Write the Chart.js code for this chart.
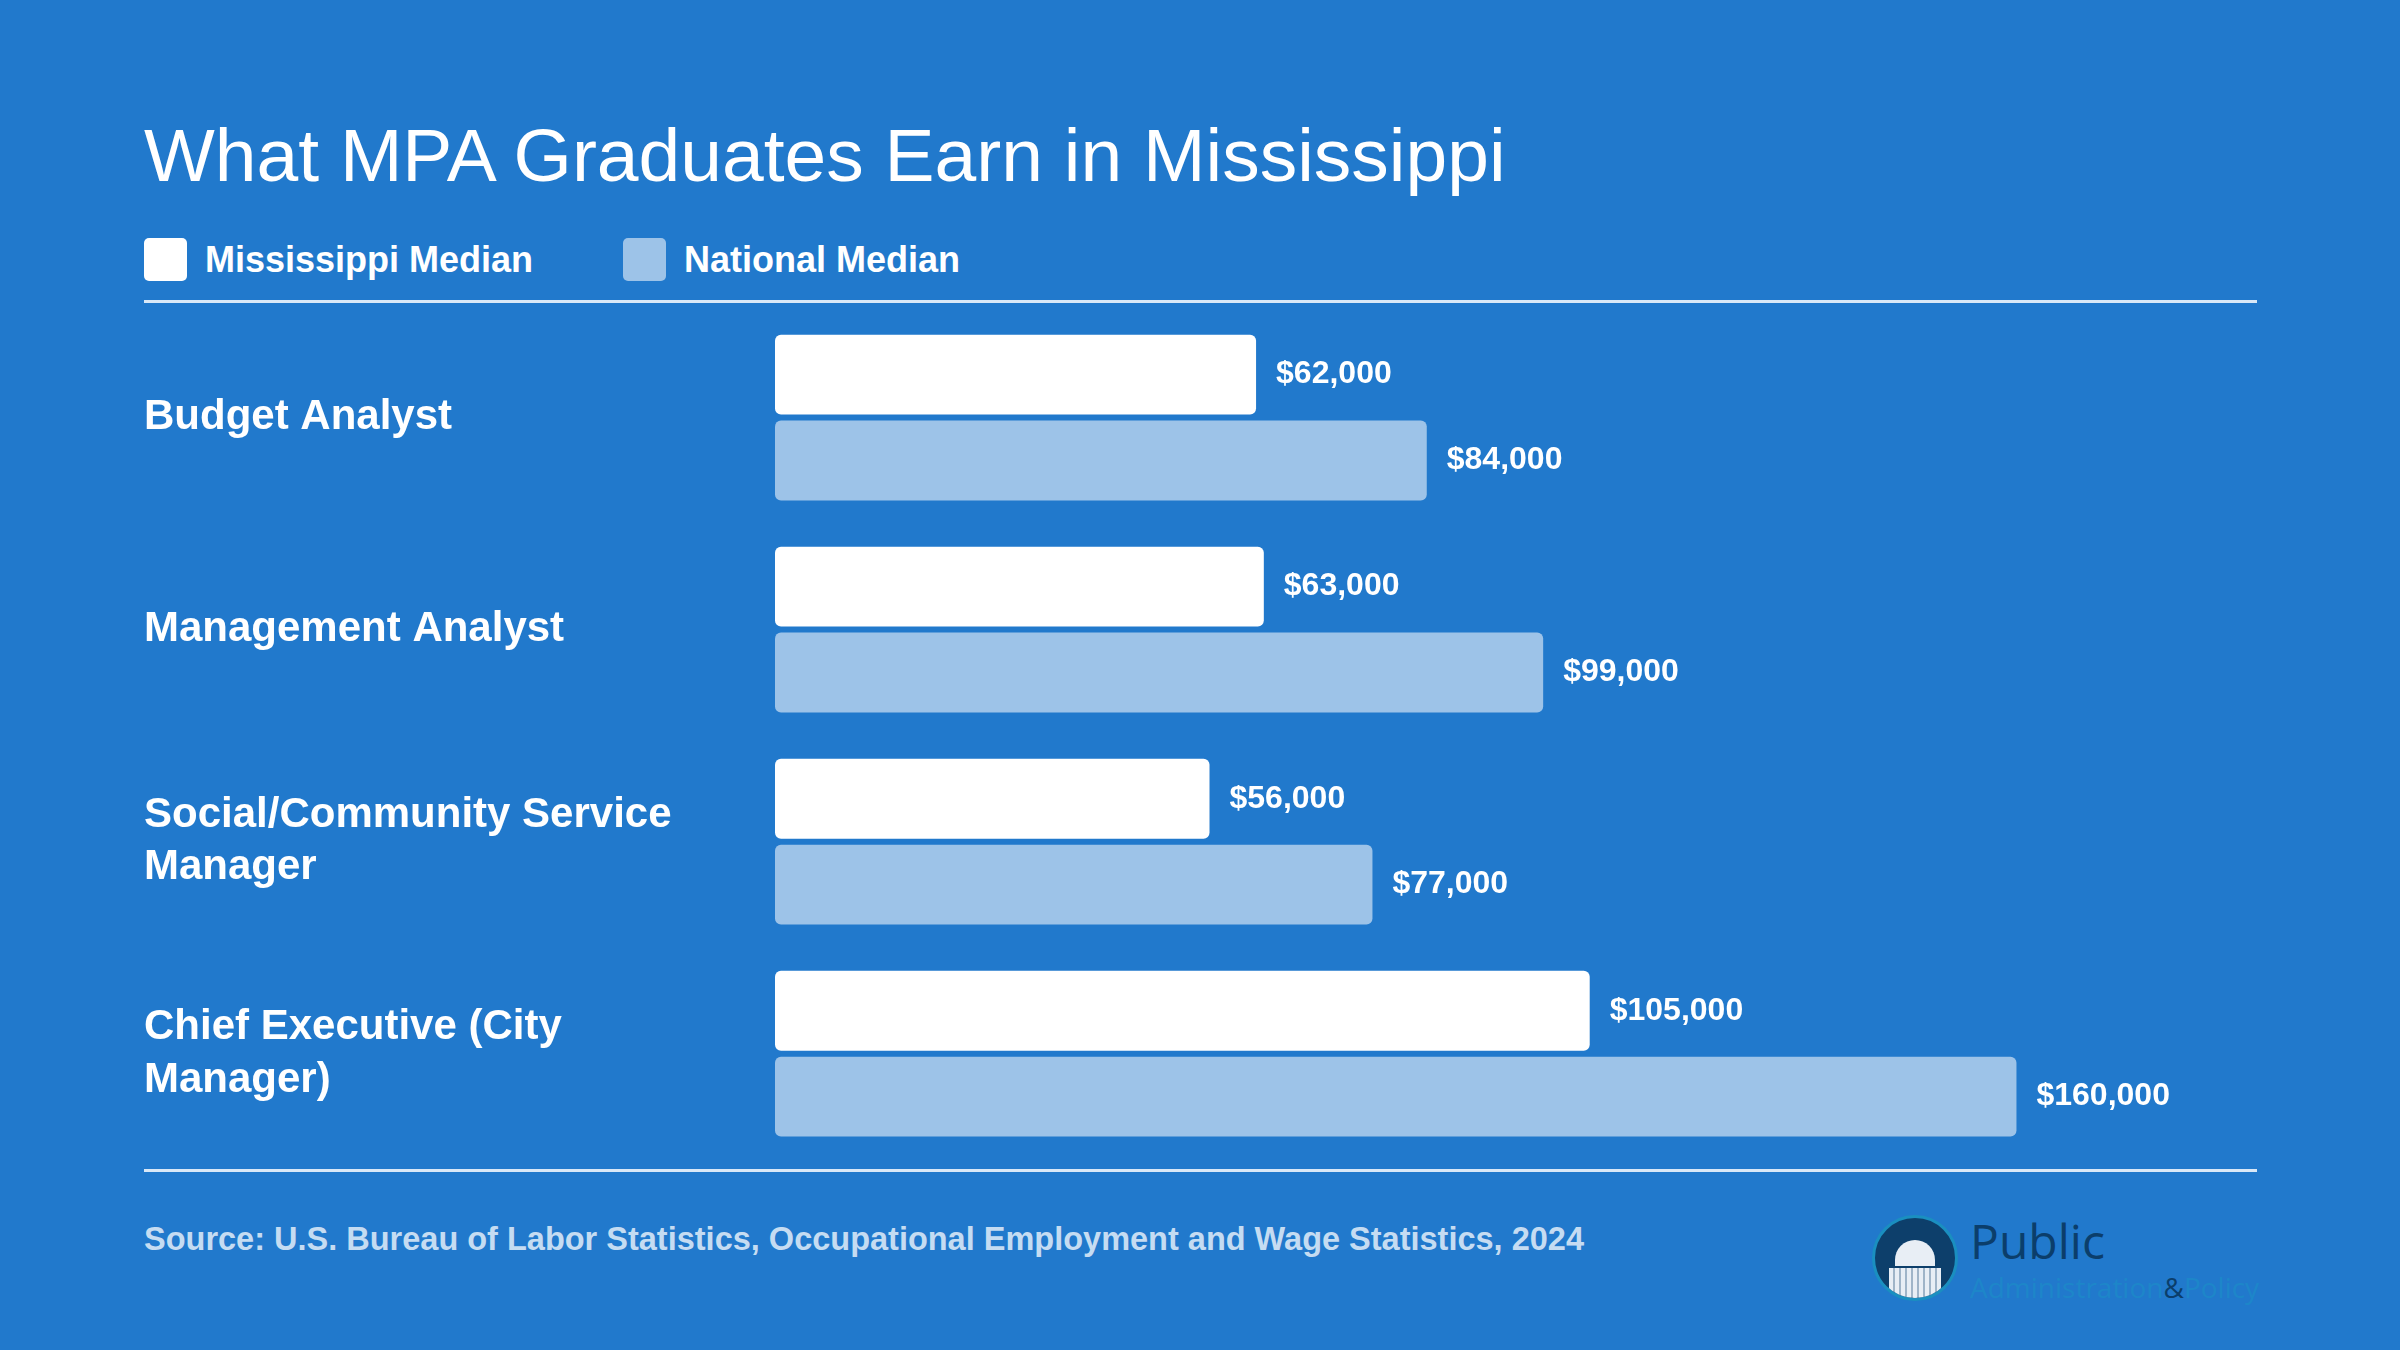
<!DOCTYPE html>
<html lang="en">
<head>
<meta charset="UTF-8">
<title>What MPA Graduates Earn in Mississippi</title>
<script src="https://cdn.jsdelivr.net/npm/chart.js"></script>
<style>
  body { margin: 0; width: 2400px; height: 1350px; background: #2179cc; font-family: "Liberation Sans", Arial, sans-serif; position: relative; overflow: hidden; }
  h1 { position: absolute; left: 144px; top: 112px; margin: 0; font-size: 75px; font-weight: normal; color: #fff; }
  .legend { position: absolute; left: 144px; top: 238px; display: flex; font-size: 36px; font-weight: bold; color: #fff; }
  .legend span { display: flex; align-items: center; margin-right: 90px; }
  .legend i { display: inline-block; width: 43px; height: 43px; border-radius: 5px; margin-right: 18px; }
  .rule { position: absolute; left: 144px; width: 2113px; height: 3px; background: #d9e8f7; }
  .source { position: absolute; left: 144px; top: 1221px; font-size: 32.5px; font-weight: bold; color: #c5dcf2; }
  #wrap { position: absolute; left: 144px; top: 259px; width: 2113px; height: 927px; }
  .logo { position: absolute; left: 1872px; top: 1212px; }
  .logo .c { position: absolute; left: 0; top: 3px; width: 80px; height: 80px; border-radius: 50%; background: #0d3f6b; border: 3px solid #1a8fc0; overflow: hidden; }
  .logo .d { position: absolute; left: 20px; top: 22px; width: 40px; height: 26px; border-radius: 20px 20px 0 0; background: #e8eef5; }
  .logo .b { position: absolute; left: 14px; top: 50px; width: 52px; height: 30px; background: repeating-linear-gradient(90deg, #e8eef5 0 4px, #9fb4c8 4px 6px); }
  .logo .p { position: absolute; left: 98px; top: -4px; font-family: "Open Sans", sans-serif; font-size: 48px; color: #0b3e6b; }
  .logo .a { position: absolute; left: 98px; top: 56px; font-family: "Open Sans", sans-serif; font-size: 28px; color: #1d86c9; white-space: nowrap; }
  .logo .a b { color: #0b3e6b; font-weight: normal; }
</style>
</head>
<body>
<h1>What MPA Graduates Earn in Mississippi</h1>
<div class="legend">
  <span><i style="background:#fff"></i>Mississippi Median</span>
  <span><i style="background:#9dc3e8"></i>National Median</span>
</div>
<div class="rule" style="top:300px"></div>
<div id="wrap"><canvas id="chart"></canvas></div>
<div class="rule" style="top:1169px"></div>
<div class="source">Source: U.S. Bureau of Labor Statistics, Occupational Employment and Wage Statistics, 2024</div>
<div class="logo">
  <div class="c"><div class="d"></div><div class="b"></div></div>
  <div class="p">Public</div>
  <div class="a">Administration<b>&amp;</b>Policy</div>
</div>
<script>
const categories = [
  ['Budget Analyst'],
  ['Management Analyst'],
  ['Social/Community Service', 'Manager'],
  ['Chief Executive (City', 'Manager)']
];
const mississippiMedian = [62000, 63000, 56000, 105000];
const nationalMedian = [84000, 99000, 77000, 160000];

const valueLabels = {
  id: 'valueLabels',
  afterDatasetsDraw(chart) {
    const ctx = chart.ctx;
    ctx.save();
    ctx.font = 'bold 32px "Liberation Sans", Arial, sans-serif';
    ctx.fillStyle = '#fff';
    ctx.textBaseline = 'middle';
    chart.data.datasets.forEach((ds, i) => {
      chart.getDatasetMeta(i).data.forEach((bar, j) => {
        ctx.fillText('$' + ds.data[j].toLocaleString('en-US'), bar.x + 20, bar.y);
      });
    });
    ctx.restore();
  }
};

new Chart(document.getElementById('chart'), {
  type: 'bar',
  data: {
    labels: categories,
    datasets: [
      { label: 'Mississippi Median', data: mississippiMedian, backgroundColor: '#ffffff', borderRadius: 6, borderSkipped: false },
      { label: 'National Median', data: nationalMedian, backgroundColor: '#9dc3e8', borderRadius: 6, borderSkipped: false }
    ]
  },
  options: {
    indexAxis: 'y',
    responsive: true,
    maintainAspectRatio: false,
    animation: false,
    categoryPercentage: 0.81,
    barPercentage: 0.93,
    layout: { padding: 0 },
    plugins: { legend: { display: false }, tooltip: { enabled: false } },
    scales: {
      x: { min: 0, max: 191000, display: false },
      y: {
        grid: { display: false },
        border: { display: false },
        afterFit(scale) { scale.width = 631; },
        ticks: {
          crossAlign: 'far',
          color: '#fff',
          padding: 0,
          font: { size: 42, weight: 'bold', family: '"Liberation Sans", Arial, sans-serif', lineHeight: 1.25 }
        }
      }
    }
  },
  plugins: [valueLabels]
});
</script>
</body>
</html>
